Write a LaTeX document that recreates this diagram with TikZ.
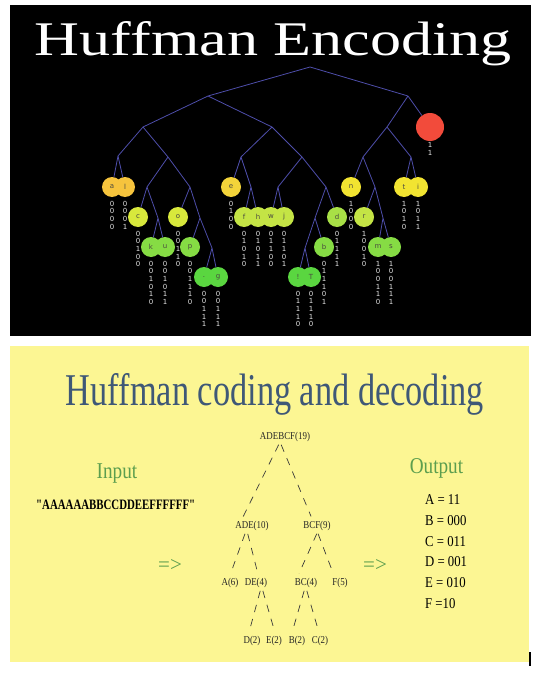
\documentclass[tikz,border=0pt]{standalone}
\usepackage{fontspec}
\usepackage{graphicx}
\usetikzlibrary{positioning}
\setmainfont{Liberation Serif}
\newfontfamily\narrowserif{Liberation Serif}[FakeStretch=0.85]
\newfontfamily\plainserif{Liberation Serif}[Ligatures=TeXOff]
\newfontfamily\bitfont{DejaVu Sans}
\definecolor{panelyellow}{HTML}{FCF693}
\definecolor{branchblue}{HTML}{4E4EAA}
\definecolor{titleblue}{HTML}{3F5877}
\definecolor{labelgreen}{HTML}{5C9E4E}
\definecolor{leafred}{HTML}{F24B3B}
\definecolor{leafink}{HTML}{4A4A40}
\definecolor{bitgray}{HTML}{E2E2E2}
\definecolor{slashgray}{HTML}{3A3A3A}
\definecolor{goldleaf}{HTML}{F6C43D}
\definecolor{amberleaf}{HTML}{F3D43A}
\definecolor{yellowleaf}{HTML}{F2E431}
\definecolor{limeleaf}{HTML}{D8E83C}
\definecolor{paleleaf}{HTML}{C4E445}
\definecolor{grassleaf}{HTML}{A8E046}
\definecolor{greenleaf}{HTML}{86DC44}
\definecolor{deepleaf}{HTML}{5AD640}
% digits of a code, one under the other
\def\bitstep#1{\ifx\relax#1\else\hbox{#1}\expandafter\bitstep\fi}
\newcommand{\bitcol}[1]{\vbox{\baselineskip=7.7pt\bitstep#1\relax}}
\newcommand{\leaf}[5]{%
  \node[leaf,fill=#3] (#1) at (#2) {#4};
  \node[bits,below=4pt of #1] (#1-code) {\bitcol{#5}};}
\begin{document}
\begin{tikzpicture}[x=1pt,y=-1pt,
 leaf/.style={circle,minimum size=20pt,inner sep=0pt,outer sep=0pt,
              font=\bitfont\fontsize{7}{8}\selectfont,text=leafink},
 bits/.style={inner sep=0pt,outer sep=0pt,text=bitgray,
              font=\bitfont\fontsize{7}{7.7}\selectfont},
 branch/.style={draw=branchblue,line width=0.8pt},
 heading/.style={anchor=base,inner sep=0pt,text=labelgreen,
                 font=\narrowserif\fontsize{22.6}{26}\selectfont},
 treelabel/.style={inner sep=0pt,text=black!85,
                   font=\narrowserif\fontsize{10.5}{12}\selectfont},
 slash/.style={draw=slashgray,line width=0.7pt,
               dash pattern=on 7.5pt off 7pt,shorten <=3pt,shorten >=5pt},
 outcode/.style={anchor=base west,inner sep=0pt,
                 font=\narrowserif\fontsize{15}{18}\selectfont},
 arrowtext/.style={inner sep=0pt,text=labelgreen,
                   font=\fontsize{21}{24}\selectfont}]
 \useasboundingbox (0,0) rectangle (543,677);
 \fill[black] (10,5) rectangle (531,336);
 \fill[panelyellow] (10,346) rectangle (529,662);
 \draw[black,line width=1.2pt] (530,652) -- (530,666);

 % top panel: the code tree
 \node[anchor=base,inner sep=0pt,text=white] (title) at (273.5,56)
   {\resizebox{477pt}{34pt}{Huffman Encoding}};
 \coordinate (root) at (310,67);
 \coordinate (c0) at (208,96);
 \coordinate (c1) at (408,96);
 \coordinate (c00) at (143,127);
 \coordinate (c01) at (272,127);
 \coordinate (c10) at (387,127);
 \coordinate (c000) at (118,156);
 \coordinate (c001) at (168,157);
 \coordinate (c010) at (241,157);
 \coordinate (c011) at (302,157);
 \coordinate (c100) at (363,157);
 \coordinate (c101) at (411,157);
 \coordinate (c0010) at (147,187);
 \coordinate (c0011) at (190,187);
 \coordinate (c0101) at (251,187);
 \coordinate (c0110) at (278,187);
 \coordinate (c0111) at (326,187);
 \coordinate (c1001) at (375,187);
 \coordinate (c00101) at (158,218);
 \coordinate (c00111) at (200,218);
 \coordinate (c01110) at (315,218);
 \coordinate (c10011) at (383,218);
 \coordinate (c001111) at (212,248);
 \coordinate (c011100) at (305,248);

 \leaf{a}{112,187}{goldleaf}{a}{0000}
 \leaf{l}{125,187}{goldleaf}{l}{0001}
 \leaf{c}{138,217}{limeleaf}{c}{00100}
 \leaf{k}{151,247}{greenleaf}{k}{001010}
 \leaf{u}{165,247}{greenleaf}{u}{001011}
 \leaf{o}{178,217}{limeleaf}{o}{00110}
 \leaf{p}{190,247}{greenleaf}{p}{001110}
 \leaf{dot}{204,277}{deepleaf}{.}{00111}
 \leaf{g}{218,277}{deepleaf}{g}{00111}
 \leaf{e}{231,187}{amberleaf}{e}{0100}
 \leaf{f}{244,217}{paleleaf}{f}{01010}
 \leaf{h}{258,217}{paleleaf}{h}{01011}
 \leaf{w}{271,217}{paleleaf}{w}{01100}
 \leaf{j}{284,217}{paleleaf}{j}{01101}
 \leaf{excl}{298,277}{deepleaf}{!}{01110}
 \leaf{T}{311,277}{deepleaf}{T}{01110}
 \leaf{b}{324,247}{greenleaf}{b}{011101}
 \leaf{d}{337,217}{grassleaf}{d}{01111}
 \leaf{n}{351,187}{yellowleaf}{n}{1000}
 \leaf{r}{364,217}{paleleaf}{r}{10010}
 \leaf{m}{378,247}{greenleaf}{m}{100110}
 \leaf{s}{391,247}{greenleaf}{s}{100111}
 \leaf{t}{404,187}{yellowleaf}{t}{1010}
 \leaf{i}{418,187}{yellowleaf}{i}{1011}
 \node[leaf,fill=leafred,minimum size=28pt] (c11) at (430,127) {};
 \node[bits,below=1.5pt of c11] (c11-code) {\bitcol{11}};

 \draw[branch] (root) -- (c0) (root) -- (c1)
   (c0) -- (c00) (c0) -- (c01)
   (c00) -- (c000) (c00) -- (c001)
   (c000) -- (a) (c000) -- (l)
   (c001) -- (c0010) (c001) -- (c0011)
   (c0010) -- (c) (c0010) -- (c00101)
   (c00101) -- (k) (c00101) -- (u)
   (c0011) -- (o) (c0011) -- (c00111)
   (c00111) -- (p) (c00111) -- (c001111)
   (c001111) -- (dot) (c001111) -- (g)
   (c01) -- (c010) (c01) -- (c011)
   (c010) -- (e) (c010) -- (c0101)
   (c0101) -- (f) (c0101) -- (h)
   (c011) -- (c0110) (c011) -- (c0111)
   (c0110) -- (w) (c0110) -- (j)
   (c0111) -- (c01110) (c0111) -- (d)
   (c01110) -- (c011100) (c01110) -- (b)
   (c011100) -- (excl) (c011100) -- (T)
   (c1) -- (c10) (c1) -- (c11)
   (c10) -- (c100) (c10) -- (c101)
   (c100) -- (n) (c100) -- (c1001)
   (c1001) -- (r) (c1001) -- (c10011)
   (c10011) -- (m) (c10011) -- (s)
   (c101) -- (t) (c101) -- (i);

 % bottom panel: coding and decoding
 \node[anchor=base,inner sep=0pt,text=titleblue] (subtitle) at (275,405)
   {\resizebox{418pt}{32pt}{Huffman coding and decoding}};
 \node[heading] (input) at (117,478) {Input};
 \node[anchor=base west,inner sep=0pt] (message) at (36,509)
   {\resizebox{159pt}{9.5pt}{\plainserif\bfseries "AAAAAABBCCDDEEFFFFFF"}};
 \node[arrowtext] (arrowin) at (170,565) {=>};
 \node[arrowtext] (arrowout) at (375,565) {=>};

 \node[treelabel] (r19) at (285,437) {ADEBCF(19)};
 \node[treelabel] (ade) at (252,526) {ADE(10)};
 \node[treelabel] (bcf) at (317,526) {BCF(9)};
 \node[treelabel] (a6) at (230,583) {A(6)};
 \node[treelabel] (de4) at (256,583) {DE(4)};
 \node[treelabel] (bc4) at (306,583) {BC(4)};
 \node[treelabel] (f5) at (340,583) {F(5)};
 \node[treelabel] (d2) at (252,641) {D(2)};
 \node[treelabel] (e2) at (274,641) {E(2)};
 \node[treelabel] (b2) at (297,641) {B(2)};
 \node[treelabel] (c2) at (320,641) {C(2)};
 \draw[slash] ([xshift=-5pt]r19.south) -- ([xshift=-11pt]ade.north);
 \draw[slash] ([xshift=-5pt]r19.south) -- ([xshift=-4pt]bcf.north);
 \draw[slash] ([xshift=-6pt]ade.south) -- ([xshift=-1pt]a6.north);
 \draw[slash] ([xshift=-5pt]ade.south) -- ([xshift=3pt]de4.north);
 \draw[slash] ([xshift=1pt]bcf.south) -- ([xshift=-9pt]bc4.north);
 \draw[slash] ([xshift=0pt]bcf.south) -- ([xshift=-5pt]f5.north);
 \draw[slash] ([xshift=5pt]de4.south) -- ([xshift=-4pt]d2.north);
 \draw[slash] ([xshift=6pt]de4.south) -- ([xshift=2pt]e2.north);
 \draw[slash] ([xshift=-1pt]bc4.south) -- ([xshift=-6pt]b2.north);
 \draw[slash] ([xshift=0pt]bc4.south) -- (c2.north);

 \node[heading] (output) at (436.5,473) {Output};
 \node[outcode] (codeA) at (425,504) {A = 11};
 \node[outcode] (codeB) at (425,525) {B = 000};
 \node[outcode] (codeC) at (425,546) {C = 011};
 \node[outcode] (codeD) at (425,566) {D = 001};
 \node[outcode] (codeE) at (425,587) {E = 010};
 \node[outcode] (codeF) at (425,608) {F =10};
\end{tikzpicture}
\end{document}
